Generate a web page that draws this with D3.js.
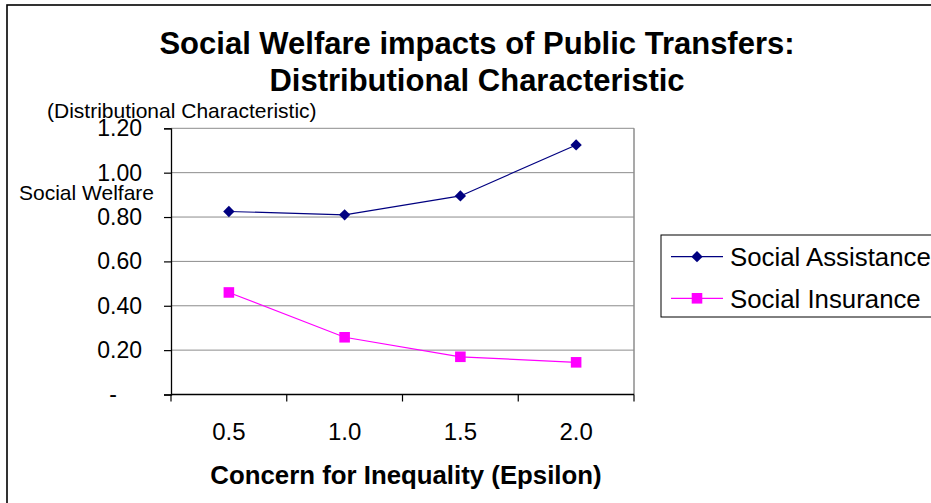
<!DOCTYPE html>
<html>
<head>
<meta charset="utf-8">
<script src="https://cdn.jsdelivr.net/npm/d3@7"></script>
<style>
  html, body { margin: 0; padding: 0; background: #fff; }
  svg { display: block; }
  text { font-family: "Liberation Sans", Arial, sans-serif; fill: #000; }
</style>
</head>
<body>
<svg id="chart" width="931" height="503"></svg>
<script>
// ---- data ----
const categories = ["0.5", "1.0", "1.5", "2.0"];
const socialAssistance = [0.825, 0.81, 0.895, 1.125];
const socialInsurance = [0.46, 0.258, 0.17, 0.145];
const yTicks = [0, 0.2, 0.4, 0.6, 0.8, 1.0, 1.2];
const seriesNames = ["Social Assistance", "Social Insurance"];
const titleLines = ["Social Welfare impacts of Public Transfers:", "Distributional Characteristic"];
const xTitle = "Concern for Inequality (Epsilon)";
const yTitleTop = "(Distributional Characteristic)";
const yTitleSide = "Social Welfare";

// ---- layout ----
const svg = d3.select("#chart");
const plot = { left: 171, right: 634, top: 128.3, bottom: 394.5 };
const x = d3.scaleBand().domain(categories).range([plot.left, plot.right]);
const y = d3.scaleLinear().domain([0, 1.2]).range([plot.bottom, plot.top]);

// outer chart border
svg.append("rect").attr("x", 7).attr("y", 5).attr("width", 1000).attr("height", 1000)
  .attr("fill", "none").attr("stroke", "#000").attr("stroke-width", 1.6);

// title
svg.append("g").selectAll("text").data(titleLines).join("text")
  .attr("x", 477).attr("y", (d, i) => 54 + i * 37)
  .attr("text-anchor", "middle").attr("font-weight", "bold").attr("font-size", 31)
  .text(d => d);

// gridlines
svg.append("g").selectAll("line").data(yTicks.filter(d => d > 0)).join("line")
  .attr("x1", plot.left).attr("x2", plot.right)
  .attr("y1", d => y(d)).attr("y2", d => y(d))
  .attr("stroke", "#8c8c8c").attr("stroke-width", 1);

// plot right border
svg.append("line").attr("x1", plot.right).attr("x2", plot.right)
  .attr("y1", plot.top).attr("y2", plot.bottom)
  .attr("stroke", "#8c8c8c").attr("stroke-width", 1.5);

// y axis
const yAxis = d3.axisLeft(y).tickValues(yTicks).tickSize(7).tickPadding(22)
  .tickFormat(d => d === 0 ? "-" : d3.format(".2f")(d));
const gy = svg.append("g").attr("transform", `translate(${plot.left},0)`).call(yAxis);
gy.select(".domain").attr("stroke", "#000").attr("stroke-width", 1.3);
gy.selectAll(".tick line").attr("stroke", "#000").attr("stroke-width", 1.2);
gy.selectAll(".tick text").attr("font-size", 23).attr("fill", "#000")
  .attr("font-family", "'Liberation Sans', Arial, sans-serif")
  .attr("dx", d => d === 0 ? -25 : 0);

// x axis (ticks at category boundaries)
const xAxisG = svg.append("g");
xAxisG.append("line").attr("x1", plot.left).attr("x2", plot.right)
  .attr("y1", plot.bottom).attr("y2", plot.bottom)
  .attr("stroke", "#000").attr("stroke-width", 1.3);
const boundaries = categories.map(c => x(c)).concat([x(categories[categories.length - 1]) + x.bandwidth()]);
xAxisG.selectAll("line.tk").data(boundaries).join("line").attr("class", "tk")
  .attr("x1", d => d).attr("x2", d => d)
  .attr("y1", plot.bottom).attr("y2", plot.bottom + 7)
  .attr("stroke", "#000").attr("stroke-width", 1.2);
xAxisG.selectAll("text").data(categories).join("text")
  .attr("x", d => x(d) + x.bandwidth() / 2).attr("y", 439.5)
  .attr("text-anchor", "middle").attr("font-size", 24)
  .text(d => d);

// axis titles
svg.append("text").attr("x", 406).attr("y", 484)
  .attr("text-anchor", "middle").attr("font-weight", "bold").attr("font-size", 25.8)
  .text(xTitle);
svg.append("text").attr("x", 47).attr("y", 118).attr("font-size", 21).text(yTitleTop);
svg.append("text").attr("x", 154).attr("y", 200).attr("text-anchor", "end")
  .attr("font-size", 21).text(yTitleSide);

// series
const diamond = d3.symbol().type(d3.symbolSquare).size(64);
const square = d3.symbol().type(d3.symbolSquare).size(112);
const series = [
  { name: seriesNames[0], values: socialAssistance, color: "#000080", shape: diamond, rot: 45 },
  { name: seriesNames[1], values: socialInsurance, color: "#ff00ff", shape: square, rot: 0 }
];
const line = d3.line().x((d, i) => x(categories[i]) + x.bandwidth() / 2).y(d => y(d));
series.forEach(s => {
  svg.append("path").datum(s.values).attr("d", line)
    .attr("fill", "none").attr("stroke", s.color).attr("stroke-width", 1.2);
  svg.append("g").selectAll("path").data(s.values).join("path")
    .attr("transform", (d, i) => `translate(${x(categories[i]) + x.bandwidth() / 2},${y(d)}) rotate(${s.rot})`)
    .attr("d", s.shape())
    .attr("fill", s.color);
});

// legend
const lg = svg.append("g");
lg.append("rect").attr("x", 661).attr("y", 235).attr("width", 300).attr("height", 82)
  .attr("fill", "#fff").attr("stroke", "#000").attr("stroke-width", 1);
series.forEach((s, i) => {
  const yy = 256.7 + i * 41.6;
  lg.append("line").attr("x1", 671).attr("x2", 723).attr("y1", yy).attr("y2", yy)
    .attr("stroke", s.color).attr("stroke-width", 1.2);
  lg.append("path").attr("transform", `translate(697,${yy}) rotate(${s.rot})`)
    .attr("d", s.shape()).attr("fill", s.color);
  lg.append("text").attr("x", 730).attr("y", yy + 9.5).attr("font-size", 25.8).text(s.name);
});
</script>
</body>
</html>
